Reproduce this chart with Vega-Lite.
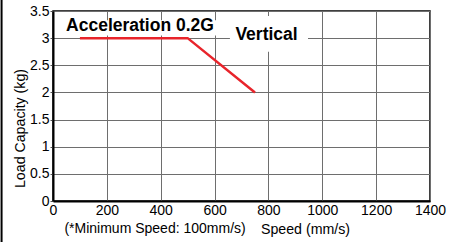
{
  "$schema": "https://vega.github.io/schema/vega-lite/v6.json",
  "width": 377,
  "height": 190,
  "autosize": {"type": "none"},
  "padding": {"left": 53, "top": 11, "right": 24, "bottom": 41},
  "background": "white",
  "config": {
    "font": "Liberation Sans",
    "view": {"stroke": "black", "strokeWidth": 1.5},
    "axis": {
      "gridColor": "#6e6e6e",
      "gridWidth": 1,
      "gridOpacity": 1,
      "domainColor": "black",
      "domainWidth": 2,
      "tickColor": "#555",
      "tickSize": 3,
      "labelColor": "black",
      "labelFontSize": 14,
      "labelFont": "Liberation Sans",
      "labelOverlap": false,
      "labelFlush": false,
      "titleFont": "Liberation Sans",
      "titleFontSize": 14.2,
      "titleFontWeight": "normal",
      "titleColor": "black"
    }
  },
  "encoding": {
    "x": {
      "type": "quantitative",
      "scale": {"domain": [0, 1400], "nice": false},
      "axis": {
        "values": [0, 200, 400, 600, 800, 1000, 1200, 1400],
        "tickCount": 20,
        "format": "d",
        "title": "Speed (mm/s)",
        "titleX": 252,
        "titleY": 28,
        "titleBaseline": "middle",
        "titleAlign": "center",
        "labelPadding": 2,
        "ticks": false
      }
    },
    "y": {
      "type": "quantitative",
      "scale": {"domain": [0, 3.5], "nice": false},
      "axis": {
        "values": [0, 0.5, 1, 1.5, 2, 2.5, 3, 3.5],
        "tickCount": 20,
        "format": ".2~f",
        "title": "Load Capacity (kg)",
        "titleX": -33,
        "titleY": 117,
        "titleBaseline": "middle",
        "titleAlign": "center",
        "labelPadding": 1
      }
    }
  },
  "layer": [
    {
      "data": {"values": [
        {"x1": 33, "x2": 613, "y1": 3.05, "y2": 3.33},
        {"x1": 657, "x2": 947, "y1": 2.75, "y2": 3.41}
      ]},
      "mark": {"type": "rect", "color": "white"},
      "encoding": {
        "x": {"field": "x1", "type": "quantitative"},
        "x2": {"field": "x2"},
        "y": {"field": "y1", "type": "quantitative"},
        "y2": {"field": "y2"}
      }
    },
    {
      "data": {"values": [
        {"speed": 100, "load": 3},
        {"speed": 500, "load": 3},
        {"speed": 750, "load": 2}
      ]},
      "mark": {"type": "line", "color": "#e8242b", "strokeWidth": 2.5},
      "encoding": {
        "x": {"field": "speed", "type": "quantitative"},
        "y": {"field": "load", "type": "quantitative"}
      }
    },
    {
      "data": {"values": [
        {"x": 323, "y": 3.224, "label": "Acceleration 0.2G"},
        {"x": 793, "y": 3.058, "label": "Vertical"}
      ]},
      "mark": {"type": "text", "fontSize": 17.5, "fontWeight": "bold", "color": "black", "align": "center", "baseline": "middle"},
      "encoding": {
        "x": {"field": "x", "type": "quantitative"},
        "y": {"field": "y", "type": "quantitative"},
        "text": {"field": "label"}
      }
    },
    {
      "data": {"values": [{"x": 379, "y": -0.516, "label": "(*Minimum Speed: 100mm/s)"}]},
      "mark": {"type": "text", "fontSize": 14, "color": "black", "align": "center", "baseline": "middle", "clip": false},
      "encoding": {
        "x": {"field": "x", "type": "quantitative"},
        "y": {"field": "y", "type": "quantitative"},
        "text": {"field": "label"}
      }
    },
    {
      "data": {"values": [{"x": -191, "y": -0.8, "y2": 3.8}]},
      "mark": {"type": "rule", "color": "black", "strokeWidth": 2, "clip": false},
      "encoding": {
        "x": {"field": "x", "type": "quantitative"},
        "y": {"field": "y", "type": "quantitative"},
        "y2": {"field": "y2"}
      }
    }
  ]
}
